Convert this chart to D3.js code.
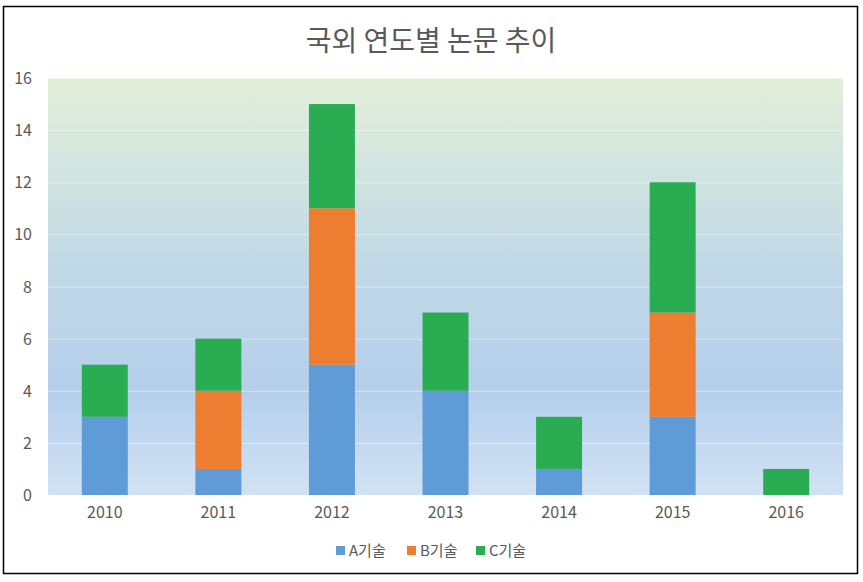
<!DOCTYPE html>
<html><head><meta charset="utf-8">
<script src="https://cdn.jsdelivr.net/npm/d3@7"></script>
<style>body{margin:0;background:#fff;} text{font-family:"Noto Sans CJK KR","Noto Sans",sans-serif;}</style>
</head><body>
<svg id="c" width="863" height="582"></svg>
<script>
const title = "국외 연도별 논문 추이";
const years = ["2010","2011","2012","2013","2014","2015","2016"];
const seriesNames = ["A기술","B기술","C기술"];
const seriesA = [3,1,5,4,1,3,0];
const seriesB = [0,3,6,0,0,4,0];
const seriesC = [2,2,4,3,2,5,1];
const yTicks = [0,2,4,6,8,10,12,14,16];
const colors = ["#5f9bd6","#ed7d31","#2aad52"];

(function(){
const svg = d3.select("#c");
svg.append("rect").attr("x",3.5).attr("y",6.5).attr("width",854).attr("height",567)
  .attr("fill","#fff").attr("stroke","#000").attr("stroke-width",1.5);

const pL=48,pR=843,pT=78,pB=495;
const x=d3.scaleBand().domain(years).range([pL,pR]).paddingInner(0.595).paddingOuter(0.2975);
const y=d3.scaleLinear().domain([0,16]).range([pB,pT]);

const defs=svg.append("defs");
const g=defs.append("linearGradient").attr("id","bg").attr("x1",0).attr("y1",0).attr("x2",0).attr("y2",1);
[["0%","#e2efd9"],["45%","#c1d9e6"],["75%","#b5cfeb"],["100%","#d2e2f4"]].forEach(s=>g.append("stop").attr("offset",s[0]).attr("stop-color",s[1]));
svg.append("rect").attr("x",pL).attr("y",pT).attr("width",pR-pL).attr("height",pB-pT).attr("fill","url(#bg)");

svg.append("g").selectAll("line").data(yTicks.slice(1)).join("line")
  .attr("x1",pL).attr("x2",pR).attr("y1",d=>y(d)+0.5).attr("y2",d=>y(d)+0.5)
  .attr("stroke","#ffffff").attr("stroke-opacity",0.45).attr("stroke-width",1);

const data=years.map((yr,i)=>({year:yr,A:seriesA[i],B:seriesB[i],C:seriesC[i]}));
const stack=d3.stack().keys(["A","B","C"])(data);
svg.append("g").selectAll("g").data(stack).join("g").attr("fill",(d,i)=>colors[i])
  .selectAll("rect").data(d=>d.filter(v=>v[1]>v[0])).join("rect")
  .attr("x",d=>x(d.data.year)).attr("width",x.bandwidth())
  .attr("y",d=>y(d[1])).attr("height",d=>y(d[0])-y(d[1]));

const yAxis=d3.axisLeft(y).tickValues(yTicks).tickSize(0).tickPadding(0);
const ya=svg.append("g").attr("transform",`translate(${32},0)`).call(yAxis);
ya.select(".domain").remove();
ya.selectAll("text").attr("fill","#595959").attr("font-size",16).attr("text-anchor","end").attr("dy","0.35em");

const xAxis=d3.axisBottom(x).tickSize(0).tickPadding(0);
const xa=svg.append("g").attr("transform",`translate(0,${pB+12})`).call(xAxis);
xa.select(".domain").remove();
xa.selectAll("text").attr("fill","#595959").attr("font-size",16).attr("dy","0.71em");

svg.append("text").attr("x",431).attr("y",39).attr("text-anchor","middle").attr("dominant-baseline","central")
  .attr("font-size",28).attr("fill","#595959").text(title);

const lg=svg.append("g");
const lx=[336,407,476];
seriesNames.forEach((n,i)=>{
  lg.append("rect").attr("x",lx[i]).attr("y",546).attr("width",9).attr("height",9).attr("fill",colors[i]);
  lg.append("text").attr("x",lx[i]+13).attr("y",551).attr("dy","0.35em").attr("font-size",15).attr("fill","#595959").text(n);
});
})();
</script>
</body></html>
